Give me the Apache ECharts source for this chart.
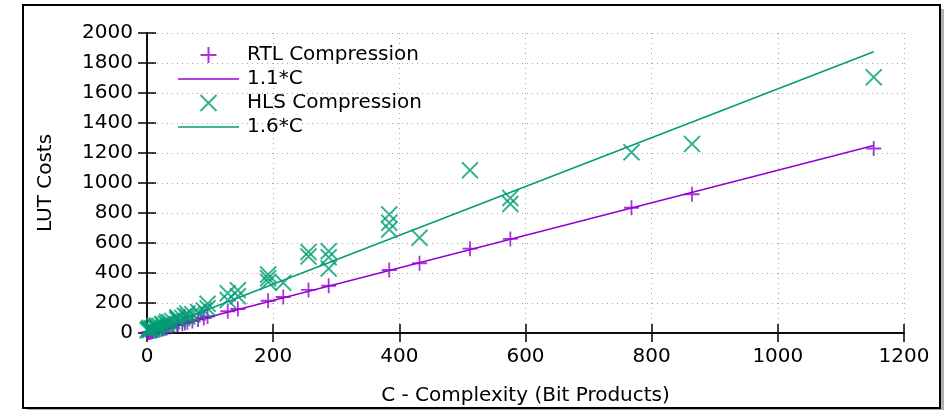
<!DOCTYPE html>
<html>
<head>
<meta charset="utf-8">
<script src="https://cdn.jsdelivr.net/npm/echarts@6/dist/echarts.min.js"></script>
<style>
  html, body { margin: 0; padding: 0; background: #fff; }
  #chart { width: 948px; height: 410px; }
</style>
</head>
<body>
<div id="chart"></div>
<script>
// 数据：C（bit products）与 LUT 成本
const rtlC = [1, 2, 4, 6, 8, 9, 12, 15, 16, 20, 24, 25, 30, 32, 36, 40, 48, 49, 56, 60, 64, 72, 81, 90, 96, 128, 144, 192, 216, 256, 288, 384, 432, 512, 576, 768, 864, 1152]
const rtlLut = [2, 3, 5, 7, 9, 10, 13, 16, 18, 22, 26, 28, 33, 35, 40, 44, 53, 54, 62, 66, 72, 80, 90, 100, 110, 145, 160, 215, 240, 287, 315, 420, 465, 562, 627, 835, 925, 1230]

const hlsC = [1, 2, 4, 4, 6, 8, 9, 12, 12, 15, 16, 16, 20, 24, 25, 30, 32, 32, 36, 40, 48, 48, 49, 56, 60, 64, 64, 72, 81, 90, 96, 96, 128, 128, 144, 144, 192, 192, 192, 216, 256, 256, 288, 288, 288, 384, 384, 384, 432, 512, 576, 576, 768, 864, 1152]
const hlsLut = [18, 25, 20, 35, 22, 30, 28, 38, 45, 40, 35, 50, 48, 55, 60, 62, 58, 75, 72, 80, 90, 105, 95, 100, 115, 110, 130, 125, 140, 150, 165, 195, 220, 265, 245, 285, 340, 365, 390, 335, 510, 540, 430, 505, 545, 690, 735, 790, 635, 1085, 860, 900, 1205, 1260, 1705]

// 拟合直线端点
const fitC = [0, 1152]
const rtlFit = [0, 1250]
const hlsFit = [0, 1875]

const xTicks = { min: 0, max: 1200, interval: 200 }
const yTicks = { min: 0, max: 2000, interval: 200 }

const purple = '#9400d3'
const green = '#009e73'
const plusIcon = 'path://M5,0L5,10M0,5L10,5'
const crossIcon = 'path://M0,0L10,10M0,10L10,0'
const lineIcon = 'path://M0,0L61,0L61,1.5L0,1.5Z'
const font = 'DejaVu Sans'

const zip = (a, b) => a.map((v, i) => [v, b[i]])

const chart = echarts.init(document.getElementById('chart'))

const axisLine = { show: true, lineStyle: { color: '#000', width: 1.5 } }
const tick = { show: true, inside: true, length: 9, lineStyle: { color: '#000', width: 1.5 } }
const grid = { show: true, lineStyle: { color: '#a8a8a8', type: [1, 4], width: 1 } }
const label = { fontSize: 20, color: '#000', margin: 14, fontFamily: font, formatter: v => String(v) }

const option = {
  animation: false,
  backgroundColor: '#fff',
  textStyle: { fontFamily: font },
  // outerBoundsMode 关掉，否则 v6 会自动压缩绘图区
  grid: { left: 147, right: 44, top: 33, bottom: 77, containLabel: false, outerBoundsMode: 'none' },
  graphic: [
    { type: 'rect', z: -10, shape: { x: 27, y: 9, width: 917, height: 402 }, style: { fill: '#b0b0b0' } },
    { type: 'rect', z: -9, shape: { x: 23, y: 5, width: 917, height: 403 }, style: { fill: '#fff', stroke: '#000', lineWidth: 2 } }
  ],
  legend: {
    orient: 'vertical',
    left: 173,
    top: 40,
    itemWidth: 61,
    itemHeight: 16,
    itemGap: 4,
    textStyle: { fontSize: 20, color: '#000', fontFamily: font, padding: [0, 0, 0, 3] },
    data: [
      { name: 'RTL Compression', icon: plusIcon },
      { name: '1.1*C', icon: lineIcon },
      { name: 'HLS Compression', icon: crossIcon },
      { name: '1.6*C', icon: lineIcon }
    ]
  },
  xAxis: [
    {
      type: 'value', position: 'bottom', ...xTicks,
      name: 'C - Complexity (Bit Products)', nameLocation: 'middle', nameGap: 53,
      nameTextStyle: { fontSize: 20, color: '#000', fontFamily: font },
      axisLine, axisTick: tick, splitLine: grid, axisLabel: label
    },
    {
      type: 'value', position: 'top', ...xTicks,
      axisLine, axisTick: tick, splitLine: { show: false }, axisLabel: { show: false }
    }
  ],
  yAxis: [
    {
      type: 'value', position: 'left', ...yTicks,
      name: 'LUT Costs', nameLocation: 'middle', nameGap: 91, nameRotate: 90,
      nameTextStyle: { fontSize: 20, color: '#000', fontFamily: font },
      axisLine, axisTick: tick, splitLine: grid, axisLabel: label
    },
    {
      type: 'value', position: 'right', ...yTicks,
      axisLine, axisTick: tick, splitLine: { show: false }, axisLabel: { show: false }
    }
  ],
  series: [
    {
      name: 'RTL Compression', type: 'scatter', symbol: plusIcon, symbolSize: 15, z: 3,
      itemStyle: { color: 'transparent', borderColor: purple, borderWidth: 1.8 },
      data: zip(rtlC, rtlLut)
    },
    {
      name: '1.1*C', type: 'line', symbol: 'none', z: 2,
      lineStyle: { color: purple, width: 1.5 }, itemStyle: { color: purple },
      data: zip(fitC, rtlFit)
    },
    {
      name: 'HLS Compression', type: 'scatter', symbol: crossIcon, symbolSize: 16, z: 3,
      itemStyle: { color: 'transparent', borderColor: green, borderWidth: 1.8 },
      data: zip(hlsC, hlsLut)
    },
    {
      name: '1.6*C', type: 'line', symbol: 'none', z: 2,
      lineStyle: { color: green, width: 1.5 }, itemStyle: { color: green },
      data: zip(fitC, hlsFit)
    }
  ]
}

chart.setOption(option)
</script>
</body>
</html>
